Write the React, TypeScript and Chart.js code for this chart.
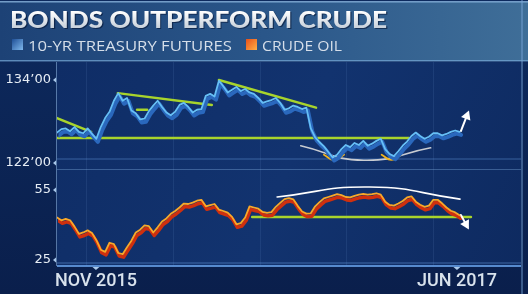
import React, { useEffect, useRef } from "react";
import { Chart, registerables } from "chart.js";

Chart.register(...registerables);

// ---------- text ----------
const TITLE = "BONDS OUTPERFORM CRUDE";
const SERIES_NAMES = ["10-YR TREASURY FUTURES", "CRUDE OIL"];

// ---------- data (weekly closes, Sep 2015 .. Jun 2017) ----------
const treasury = [
  126.4, 126.9, 127.0, 126.6, 127.2, 126.5, 126.3, 127.0, 126.2, 125.5,
  127.2, 128.5, 129.4, 131.0, 132.1, 131.0, 131.4, 129.6, 129.2, 128.3,
  128.4, 129.5, 130.3, 131.0, 130.1, 129.3, 128.9, 129.4, 130.4, 130.7,
  130.1, 129.3, 129.7, 129.8, 131.7, 132.0, 131.6, 133.9, 133.1, 132.2,
  132.6, 133.0, 132.4, 132.7, 132.2, 132.0, 131.4, 130.7, 130.9, 131.1,
  131.4, 130.7, 129.7, 129.9, 130.3, 130.1, 129.8, 130.0, 127.0, 125.7,
  125.0, 124.4, 123.6, 122.8, 123.2, 124.0, 124.6, 124.3, 124.9, 124.6,
  125.2, 124.5, 124.8, 125.2, 125.5, 124.0, 123.3, 123.0, 123.7, 124.5,
  125.1, 125.9, 126.4, 125.9, 125.5, 125.8, 126.3, 126.3, 126.0, 126.2,
  126.5, 126.7, 126.5,
];

const crude = [
  43.2, 42.0, 42.6, 42.0, 39.3, 36.2, 36.8, 37.7, 36.6, 33.5,
  29.4, 28.5, 32.4, 31.8, 28.0, 27.5, 30.5, 33.3, 36.8, 38.0,
  39.8, 39.5, 36.8, 39.0, 41.5, 42.8, 44.8, 46.0, 47.5, 49.2,
  49.0, 49.6, 50.4, 50.8, 48.0, 48.5, 49.0, 46.6, 46.0, 45.3,
  43.5, 40.3, 40.8, 43.2, 48.0, 47.5, 47.0, 45.6, 45.2, 45.5,
  47.8, 49.5, 51.1, 51.5, 51.0, 48.2, 45.8, 44.9, 45.0, 48.0,
  49.8, 51.4, 52.0, 52.6, 53.2, 52.8, 52.0, 51.8, 52.5, 53.0,
  53.3, 53.0, 53.2, 53.6, 53.0, 50.0, 48.6, 48.3, 49.2, 50.3,
  51.8, 52.3, 50.0, 48.7, 47.8, 48.3, 50.8, 50.8, 49.3, 47.5,
  46.1, 45.4, 44.2,
];

// ---------- axes ----------
const xTickWeeks = [8.9, 91.4];
const xTickLabels = ["NOV 2015", "JUN 2017"];
const gridWeeks = [6.6, 26.5, 46.4, 66.0, 85.9];
const bondTicks = [122, 134];
const bondTickLabels = ["122\u201900", "134\u201900"];
const crudeTicks = [25, 55];
const crudeTickLabels = ["25", "55"];

// ---------- annotations (week, value) ----------
const bondGreenLines = [
  [[0, 128.5], [7.8, 126.5]],
  [[0, 125.6], [80.4, 125.6]],
  [[13.9, 132.1], [35.4, 130.4]],
  [[18.3, 129.7], [20.6, 129.7]],
  [[37.0, 134.0], [59.2, 130.0]],
];
const crudeGreenLines = [[[44.6, 43.4], [94.6, 43.4]]];
const bondArc = [[55.7, 124.5], [70.1, 122.4], [85.4, 124.2]];
const bondCups = [
  [[61.0, 123.2], [63.3, 122.45], [65.6, 123.2]],
  [[74.2, 123.2], [76.4, 122.45], [78.6, 123.2]],
];
const crudeArc = [[50.3, 52.0], [71.5, 56.3], [92.1, 51.1]];
const bondArrow = [[92.3, 126.6], [93.9, 129.2]];
const crudeArrow = [[92.3, 44.3], [93.8, 39.2]];

const pts = (arr: number[][]) => arr.map(([x, y]) => ({ x, y }));
const series = (vals: number[]) => vals.map((y, i) => ({ x: i, y }));

const SHIFT: Record<string, [number, number]> = {
  "bond-shadow": [1.5, 3],
  "crude-shadow": [1, 3],
};
const ARROWS = ["bond-arrow", "crude-arrow"];

const bgPlugin = {
  id: "bg",
  beforeDraw(chart: any) {
    const { ctx, chartArea: a, scales } = chart;
    const W = chart.width, H = chart.height;
    ctx.save();
    let g = ctx.createLinearGradient(0, 0, 0, H);
    g.addColorStop(0, "#0d2a5e");
    g.addColorStop(1, "#0a1f4c");
    ctx.fillStyle = g;
    ctx.fillRect(0, 0, W, H);
    // plot background
    g = ctx.createLinearGradient(a.left, a.top, a.right, a.bottom);
    g.addColorStop(0, "#0f2d66");
    g.addColorStop(0.5, "#12336f");
    g.addColorStop(1, "#0e2a60");
    ctx.fillStyle = g;
    ctx.fillRect(a.left, a.top, a.right - a.left, a.bottom - a.top);
    // title bar
    g = ctx.createLinearGradient(0, 0, W, 0);
    g.addColorStop(0, "#1d4276");
    g.addColorStop(0.5, "#2a5689");
    g.addColorStop(1, "#3f6e98");
    ctx.fillStyle = g;
    ctx.fillRect(0, 2, W, 59);
    ctx.fillStyle = "rgba(150,195,235,0.75)";
    ctx.fillRect(0, 1, W, 1.5);
    ctx.fillStyle = "rgba(120,170,215,0.7)";
    ctx.fillRect(0, 60, W, 1.5);
    // grid verticals
    const x = scales.x;
    ctx.strokeStyle = "rgba(120,165,225,0.12)";
    ctx.lineWidth = 1;
    for (const w of gridWeeks) {
      const px = Math.round(x.getPixelForValue(w)) + 0.5;
      ctx.beginPath();
      ctx.moveTo(px, a.top);
      ctx.lineTo(px, a.bottom);
      ctx.stroke();
    }
    // panel separators / glows
    const y1 = scales.y1, y2 = scales.y2;
    ctx.fillStyle = "rgba(110,165,230,0.22)";
    ctx.fillRect(a.left, y1.bottom - 12, a.right - a.left, 2);
    ctx.fillStyle = "rgba(140,185,235,0.35)";
    ctx.fillRect(a.left, y1.bottom - 1, a.right - a.left, 1);
    ctx.fillStyle = "rgba(110,165,230,0.25)";
    ctx.fillRect(a.left, y2.bottom - 4, a.right - a.left, 2);
    ctx.fillStyle = "rgba(95,150,220,0.9)";
    ctx.fillRect(a.left, a.bottom - 1, a.right - a.left, 2);
    // left border
    ctx.fillStyle = "rgba(150,190,235,0.55)";
    ctx.fillRect(a.left - 1, a.top, 1, a.bottom - a.top);
    // right border
    ctx.fillStyle = "rgba(120,165,215,0.45)";
    ctx.fillRect(a.right, 0, 2, H);
    ctx.restore();
  },
  beforeDatasetDraw(chart: any, args: any) {
    const ds = chart.data.datasets[args.index];
    const s = SHIFT[ds.label];
    if (!s) return;
    chart.ctx.save();
    chart.ctx.translate(s[0], s[1]);
  },
  afterDatasetDraw(chart: any, args: any) {
    const ds = chart.data.datasets[args.index];
    if (SHIFT[ds.label]) chart.ctx.restore();
  },
  afterDatasetsDraw(chart: any) {
    const ctx = chart.ctx;
    chart.data.datasets.forEach((ds: any, i: number) => {
      if (!ARROWS.includes(ds.label)) return;
      const meta = chart.getDatasetMeta(i);
      const p0 = meta.data[0], p1 = meta.data[1];
      const ang = Math.atan2(p1.y - p0.y, p1.x - p0.x);
      const L = 9, Wd = 5;
      ctx.save();
      ctx.fillStyle = "#ffffff";
      ctx.translate(p1.x, p1.y);
      ctx.rotate(ang);
      ctx.beginPath();
      ctx.moveTo(3, 0);
      ctx.lineTo(-L + 3, -Wd);
      ctx.lineTo(-L + 3, Wd);
      ctx.closePath();
      ctx.fill();
      ctx.restore();
    });
  },
  afterDraw(chart: any) {
    const { ctx, chartArea: a, scales } = chart;
    ctx.save();
    // title
    ctx.font = '900 22px "Lato"';
    ctx.textBaseline = "alphabetic";
    const tw = ctx.measureText(TITLE).width;
    ctx.save();
    ctx.translate(10, 27.5);
    ctx.scale(377 / tw, 1);
    ctx.fillStyle = "rgba(5,20,50,0.6)";
    ctx.fillText(TITLE, 1, 1.5);
    const tg = ctx.createLinearGradient(0, -16, 0, 0);
    tg.addColorStop(0, "#ffffff");
    tg.addColorStop(1, "#c9d2dc");
    ctx.fillStyle = tg;
    ctx.fillText(TITLE, 0, 0);
    ctx.restore();
    // legend
    const boxes = [
      { x: 12, c0: "#1f4f96", c1: "#7fb8ec", tx: 28, tw: 204 },
      { x: 246, c0: "#e8501a", c1: "#ffb046", tx: 262, tw: 80 },
    ];
    ctx.font = '400 15px "Open Sans"';
    boxes.forEach((b, i) => {
      const lg = ctx.createLinearGradient(b.x, 39, b.x + 11, 50);
      lg.addColorStop(0, b.c0);
      lg.addColorStop(1, b.c1);
      ctx.fillStyle = lg;
      ctx.fillRect(b.x, 39, 11, 11);
      const w = ctx.measureText(SERIES_NAMES[i]).width;
      ctx.save();
      ctx.translate(b.tx, 50.5);
      ctx.scale(b.tw / w, 1);
      ctx.fillStyle = "#d5dee9";
      ctx.fillText(SERIES_NAMES[i], 0, 0);
      ctx.restore();
    });
    // tick markers
    ctx.fillStyle = "#a9c8ea";
    const ys: [any, number[]][] = [[scales.y1, bondTicks], [scales.y2, crudeTicks]];
    ys.forEach(([sc, ticks]) => {
      ticks.forEach((t) => {
        const py = sc.getPixelForValue(t);
        ctx.beginPath();
        ctx.moveTo(a.left - 4, py);
        ctx.lineTo(a.left - 1, py - 2.5);
        ctx.lineTo(a.left - 1, py + 2.5);
        ctx.closePath();
        ctx.fill();
      });
    });
    xTickWeeks.forEach((w) => {
      const px = scales.x.getPixelForValue(w);
      ctx.beginPath();
      ctx.moveTo(px - 3.5, a.bottom + 1);
      ctx.lineTo(px + 3.5, a.bottom + 1);
      ctx.lineTo(px, a.bottom + 4);
      ctx.closePath();
      ctx.fill();
    });
    ctx.restore();
  },
};

const GREEN = "#a8d42c";

export default function App() {
  const ref = useRef<HTMLCanvasElement | null>(null);
  useEffect(() => {
    if (!ref.current) return;
    const line = (label: string, data: any[], yAxisID: string, color: string, width: number, extra: any = {}) => ({
      type: "line" as const,
      label,
      data,
      yAxisID,
      borderColor: color,
      borderWidth: width,
      pointRadius: 0,
      fill: false,
      tension: 0,
      borderJoinStyle: "round",
      borderCapStyle: "round",
      ...extra,
    });
    const datasets: any[] = [
      line("bond", series(treasury), "y1", "#66bff6", 1.8),
      line("crude", series(crude), "y2", "#f9a828", 1.8),
      line("bond-arrow", pts(bondArrow), "y1", "#ffffff", 2),
      line("crude-arrow", pts(crudeArrow), "y2", "#ffffff", 2),
      line("bond-shadow", series(treasury), "y1", "#2a68bd", 4),
      line("crude-shadow", series(crude), "y2", "#cf300e", 3.5),
      ...bondGreenLines.map((l, i) => line("bond-green-" + i, pts(l), "y1", GREEN, 2.5)),
      ...crudeGreenLines.map((l, i) => line("crude-green-" + i, pts(l), "y2", GREEN, 2.5)),
      ...bondCups.map((l, i) => line("bond-cup-" + i, pts(l), "y1", "#f2b41c", 1.8, { tension: 0.5 })),
      line("bond-arc", pts(bondArc), "y1", "#c8ccd2", 1.6, { tension: 0.5 }),
      line("crude-arc", pts(crudeArc), "y2", "#ffffff", 1.6, { tension: 0.5 }),
    ];
    const chart = new Chart(ref.current, {
      type: "line",
      data: { datasets },
      plugins: [bgPlugin],
      options: {
        responsive: false,
        animation: false,
        events: [],
        layout: { padding: { top: 62, right: 7, left: 0, bottom: 0 } },
        plugins: { legend: { display: false }, title: { display: false }, tooltip: { enabled: false } },
        scales: {
          x: {
            type: "linear",
            min: 0,
            max: 106.04,
            grid: { display: false, drawTicks: false },
            border: { display: false },
            afterBuildTicks: (s: any) => {
              s.ticks = xTickWeeks.map((v) => ({ value: v }));
            },
            afterFit: (s: any) => {
              s.height = 28;
            },
            ticks: {
              autoSkip: false,
              maxRotation: 0,
              padding: 5,
              color: "#d8e2ec",
              font: { family: "Roboto", size: 18, weight: "500" },
              callback: (_v: any, i: number) => xTickLabels[i],
            },
          },
          // bottom panel defined first: Chart.js stacks left axes in reverse order
          y2: {
            type: "linear",
            position: "left",
            stack: "panels",
            stackWeight: 96,
            min: 22.43,
            max: 63.57,
            grid: { display: false, drawTicks: false },
            border: { display: false },
            afterBuildTicks: (s: any) => {
              s.ticks = crudeTicks.map((v) => ({ value: v }));
            },
            afterFit: (s: any) => {
              s.width = 57;
            },
            ticks: {
              padding: 6,
              color: "#e6edf5",
              font: { family: "DejaVu Sans", size: 13 },
              callback: (_v: any, i: number) => crudeTickLabels[i],
            },
          },
          y1: {
            type: "linear",
            position: "left",
            stack: "panels",
            stackWeight: 108,
            min: 120.99,
            max: 136.6,
            grid: { display: false, drawTicks: false },
            border: { display: false },
            afterBuildTicks: (s: any) => {
              s.ticks = bondTicks.map((v) => ({ value: v }));
            },
            afterFit: (s: any) => {
              s.width = 57;
            },
            ticks: {
              padding: 6,
              color: "#e6edf5",
              font: { family: "DejaVu Sans", size: 13 },
              callback: (_v: any, i: number) => bondTickLabels[i],
            },
          },
        },
      } as any,
    });
    return () => chart.destroy();
  }, []);
  return (
    <div style={{ position: "fixed", left: 0, top: 0, width: 528, height: 294 }}>
      <canvas ref={ref} width={528} height={294} style={{ display: "block" }} />
    </div>
  );
}
